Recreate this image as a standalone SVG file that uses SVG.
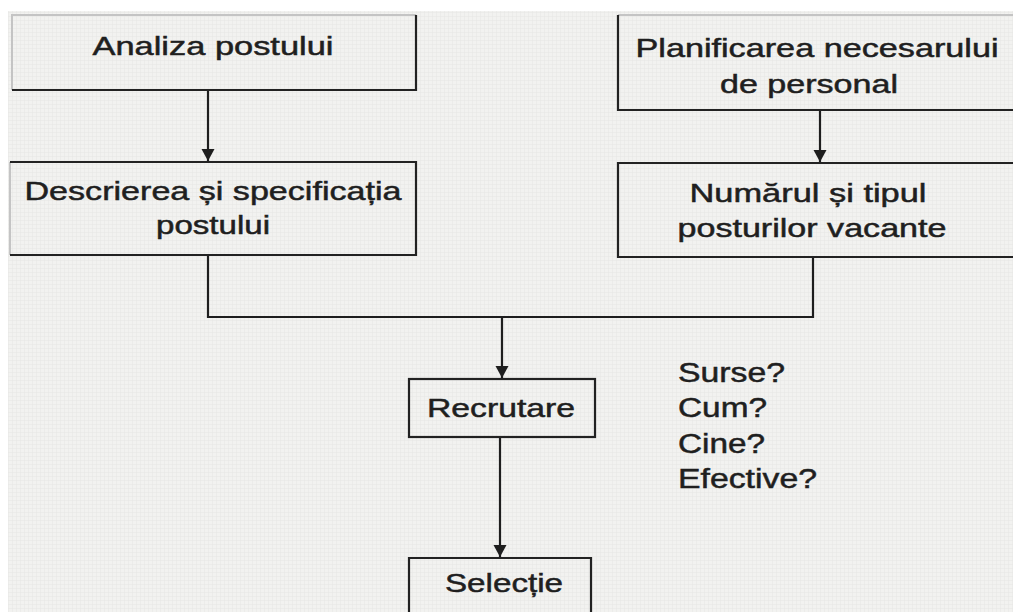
<svg xmlns="http://www.w3.org/2000/svg" width="1013" height="612" viewBox="0 0 1013 612">
<defs>
<pattern id="grid" width="4" height="4" patternUnits="userSpaceOnUse">
<rect width="4" height="4" fill="#f2f2f0"/>
<path d="M0 0.5H4M0.5 0V4" stroke="#e6e6e4" stroke-width="0.5"/>
</pattern>
<marker id="arr" markerWidth="14" markerHeight="14" refX="12" refY="7" orient="auto" markerUnits="userSpaceOnUse">
<path d="M0 0.5 L12 7 L0 13.5 Z" fill="#1e1e1e"/>
</marker>
<style>
.t{font-family:"Liberation Sans",Arial,sans-serif;font-size:26px;fill:#1f1f1f;stroke:#1f1f1f;stroke-width:0.5;text-anchor:middle}
.q{font-family:"Liberation Sans",Arial,sans-serif;font-size:27px;fill:#1f1f1f;stroke:#1f1f1f;stroke-width:0.5}
.e{fill:none;stroke:#222;stroke-width:2.2}
.f{fill:none;stroke:#c4c4c4;stroke-width:2}
.c{fill:none;stroke:#1e1e1e;stroke-width:2.2}
</style>
</defs>
<rect width="1013" height="612" fill="#ffffff"/>
<rect x="8" y="11" width="1005" height="601" fill="url(#grid)"/>
<g id="n-analiza">
<path class="f" d="M12 90V15H416"/>
<path class="e" d="M416 15V90H12"/>
<text class="t" x="213" y="55" textLength="241" lengthAdjust="spacingAndGlyphs">Analiza postului</text>
</g>
<g id="n-descrierea">
<path class="f" d="M10 162V255"/>
<path class="e" d="M10 162H416V255H10"/>
<text class="t" x="213" y="200" textLength="377" lengthAdjust="spacingAndGlyphs">Descrierea și specificația</text>
<text class="t" x="213" y="234" textLength="114" lengthAdjust="spacingAndGlyphs">postului</text>
</g>
<g id="n-planificarea">
<path class="f" d="M618 15H1013"/>
<path class="e" d="M618 15V110H1013"/>
<text class="t" x="817" y="57" textLength="363" lengthAdjust="spacingAndGlyphs">Planificarea necesarului</text>
<text class="t" x="809" y="93" textLength="178" lengthAdjust="spacingAndGlyphs">de personal</text>
</g>
<g id="n-numarul">
<path class="e" d="M1013 163H618V257H1013"/>
<text class="t" x="808" y="202" textLength="237" lengthAdjust="spacingAndGlyphs">Numărul și tipul</text>
<text class="t" x="812" y="237" textLength="269" lengthAdjust="spacingAndGlyphs">posturilor vacante</text>
</g>
<g id="n-recrutare">
<rect class="e" x="409" y="379" width="186" height="58"/>
<text class="t" x="501" y="417" textLength="148" lengthAdjust="spacingAndGlyphs">Recrutare</text>
</g>
<g id="n-selectie">
<path class="e" d="M409 614V558H591V614"/>
<text class="t" x="504" y="592" textLength="118" lengthAdjust="spacingAndGlyphs">Selecție</text>
</g>
<g id="n-intrebari">
<text class="q" x="678" y="382" textLength="107" lengthAdjust="spacingAndGlyphs">Surse?</text>
<text class="q" x="678" y="417" textLength="89" lengthAdjust="spacingAndGlyphs">Cum?</text>
<text class="q" x="678" y="453" textLength="87" lengthAdjust="spacingAndGlyphs">Cine?</text>
<text class="q" x="678" y="488" textLength="139" lengthAdjust="spacingAndGlyphs">Efective?</text>
</g>
<g id="connectors">
<path class="c" d="M208 91V161" marker-end="url(#arr)"/>
<path class="c" d="M820 111V162" marker-end="url(#arr)"/>
<path class="c" d="M208 256V317H813V258"/>
<path class="c" d="M502 317V378" marker-end="url(#arr)"/>
<path class="c" d="M500 438V557" marker-end="url(#arr)"/>
</g>
</svg>
